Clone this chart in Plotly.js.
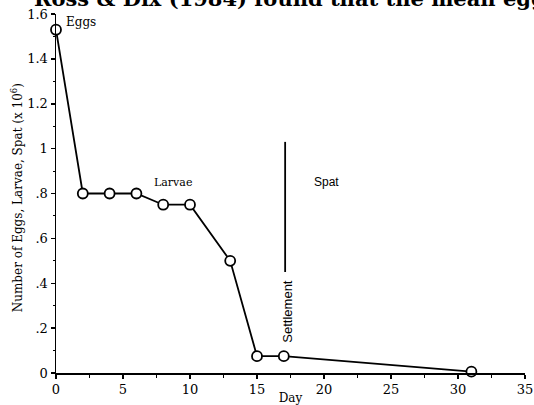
<!DOCTYPE html>
<html>
<head>
<meta charset="utf-8">
<script src="https://cdn.plot.ly/plotly-3.0.1.min.js"></script>
<style>html,body{margin:0;padding:0;background:#fff;}#chart{width:534px;height:405px;}</style>
</head>
<body>
<div id="chart"></div>
<script>
const days = [0, 2, 4, 6, 8, 10, 13, 15, 17, 31];
const counts = [1.53, 0.80, 0.80, 0.80, 0.75, 0.75, 0.50, 0.075, 0.075, 0.006];
const settlementDay = [17.1, 17.1];
const settlementRange = [0.45, 1.03];
const xTicks = [0, 5, 10, 15, 20, 25, 30, 35];
const yTicks = [0, 0.2, 0.4, 0.6, 0.8, 1, 1.2, 1.4, 1.6];
const yTickLabels = ['0', '.2', '.4', '.6', '.8', '1', '1.2', '1.4', '1.6'];
const stageLabels = ['Eggs', 'Larvae', 'Spat'];
const stageX = [1.85, 8.7, 20.2];
const stageY = [1.565, 0.85, 0.85];

const serif = 'DejaVu Serif, Liberation Serif, serif';
const sans = 'Liberation Sans, Arial, sans-serif';

const traces = [
  {
    x: days, y: counts, type: 'scatter', mode: 'lines+markers',
    line: {color: '#000', width: 1.8},
    marker: {symbol: 'circle', size: 10, color: '#fff', line: {color: '#000', width: 1.8}},
    cliponaxis: false, hoverinfo: 'skip'
  },
  {
    x: settlementDay, y: settlementRange, type: 'scatter', mode: 'lines',
    line: {color: '#000', width: 1.8}, hoverinfo: 'skip'
  }
];

const annotations = stageLabels.map((t, i) => ({
  x: stageX[i], y: stageY[i], xref: 'x', yref: 'y', text: t, showarrow: false,
  font: {family: i === 2 ? sans : serif, size: i === 1 ? 11 : 12, color: '#000'}
}));
annotations.push({
  x: 17.3, y: 0.277, xref: 'x', yref: 'y', text: 'Settlement', showarrow: false,
  textangle: -90, font: {family: sans, size: 13, color: '#000'}
});
annotations.push({
  x: -0.051, y: 1, xref: 'paper', yref: 'paper', xanchor: 'left', yanchor: 'bottom',
  yshift: 1, text: '<b>Ross &amp; Dix (1984) found that the mean egg</b>', showarrow: false,
  font: {family: serif, size: 21, color: '#000'}
});
annotations.push({
  x: -0.083, y: 0.487, xref: 'paper', yref: 'paper', xanchor: 'center', yanchor: 'middle',
  text: 'Number of Eggs, Larvae, Spat (x 10<sup>6</sup>)', showarrow: false, textangle: -90,
  font: {family: serif, size: 12, color: '#000'}
});

const layout = {
  width: 534, height: 405,
  margin: {l: 56, r: 9, t: 14, b: 32},
  paper_bgcolor: '#fff', plot_bgcolor: '#fff',
  showlegend: false,
  xaxis: {
    range: [0, 35], tickvals: xTicks, ticktext: xTicks.map(String),
    ticks: 'outside', ticklen: 4, tickwidth: 1.5, tickcolor: '#000',
    minor: {dtick: 2.5, ticks: 'outside', ticklen: 3, tickcolor: '#000', tickwidth: 1},
    showline: true, linecolor: '#000', linewidth: 1.5, showgrid: false, zeroline: false,
    tickfont: {family: serif, size: 13, color: '#000'},
    title: {text: 'Day', font: {family: serif, size: 12, color: '#000'}, standoff: 1}
  },
  yaxis: {
    range: [0, 1.6], tickvals: yTicks, ticktext: yTickLabels,
    ticks: 'outside', ticklen: 4, tickwidth: 1.5, tickcolor: '#000',
    minor: {dtick: 0.1, ticks: 'outside', ticklen: 2, tickcolor: '#000', tickwidth: 1},
    showline: true, linecolor: '#000', linewidth: 1.5, showgrid: false, zeroline: false,
    tickfont: {family: serif, size: 13, color: '#000'}
  },
  annotations: annotations
};

Plotly.newPlot('chart', traces, layout, {displayModeBar: false, staticPlot: true});
</script>
</body>
</html>
